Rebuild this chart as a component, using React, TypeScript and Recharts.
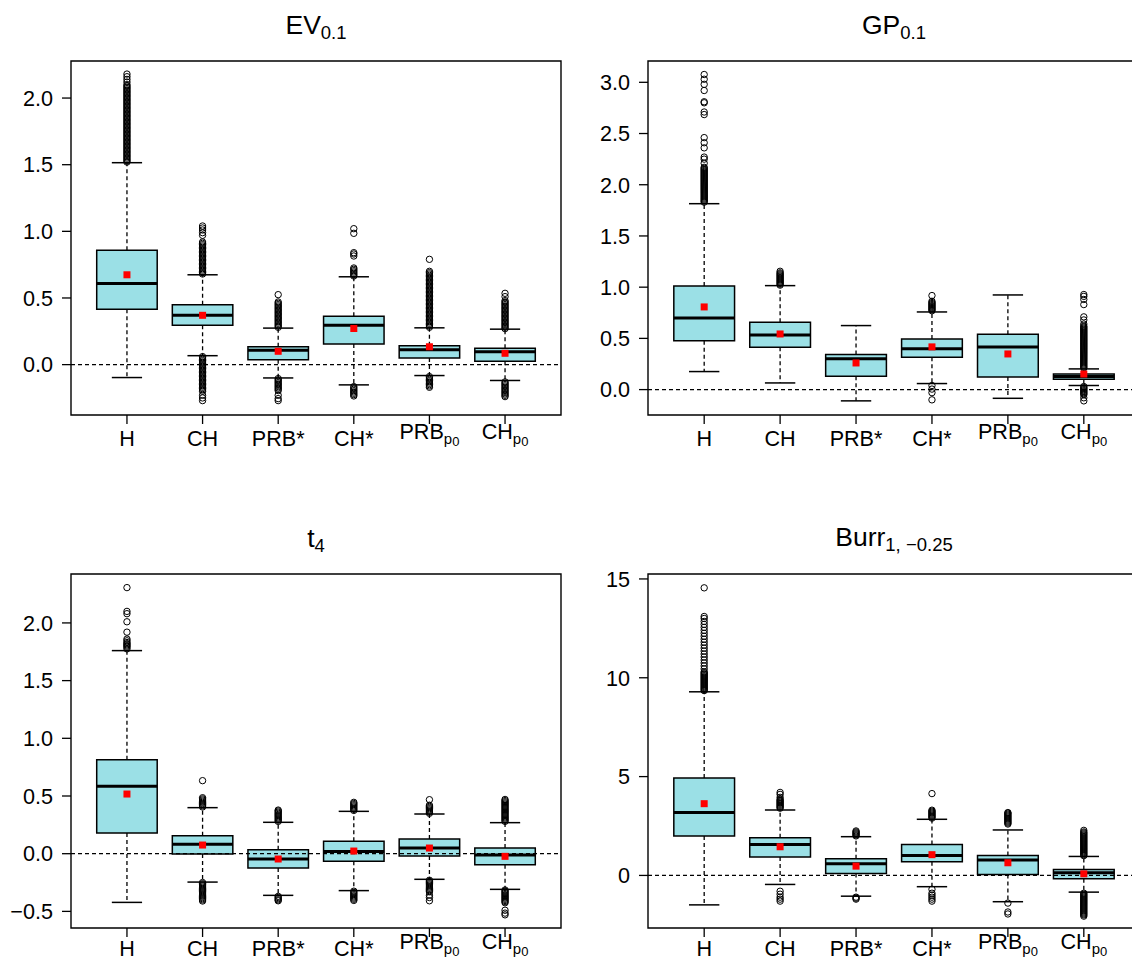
import React from 'react';
import { ScatterChart, Scatter, XAxis, YAxis, ReferenceArea, ReferenceLine } from 'recharts';

const FONT = '"Liberation Sans", Arial, Helvetica, sans-serif';
const BOX_FILL = '#9be0e6';

// categories (tick labels with plotmath-like subscripts)
const positions = [1, 2, 3, 4, 5, 6];
const categories = ['H', 'CH', 'PRB*', 'CH*', 'PRB', 'CH'];
const catSub = ['', '', '', '', 'p', 'p'];
const catSubSub = ['', '', '', '', '0', '0'];

// ---------- EV_0.1 ----------
const evTicks = [0, 0.5, 1, 1.5, 2];
const evLow = [-0.097, 0.067, -0.1, -0.152, -0.082, -0.119];
const evQ1 = [0.415, 0.296, 0.037, 0.154, 0.05, 0.025];
const evMed = [0.609, 0.37, 0.107, 0.296, 0.112, 0.097];
const evQ3 = [0.858, 0.45, 0.134, 0.363, 0.142, 0.122];
const evHigh = [1.515, 0.674, 0.274, 0.659, 0.276, 0.266];
const evMean = [0.674, 0.37, 0.1, 0.271, 0.134, 0.085];
const evOutH = [1.52, 1.53, 1.54, 1.55, 1.56, 1.57, 1.58, 1.59, 1.6, 1.61, 1.62, 1.63, 1.64, 1.65, 1.66, 1.67, 1.68, 1.69, 1.7, 1.71, 1.72, 1.73, 1.74, 1.75, 1.76, 1.77, 1.78, 1.79, 1.8, 1.81, 1.82, 1.83, 1.84, 1.85, 1.86, 1.87, 1.88, 1.89, 1.9, 1.91, 1.92, 1.93, 1.94, 1.95, 1.96, 1.97, 1.98, 1.99, 2.0, 2.01, 2.02, 2.03, 2.04, 2.05, 2.06, 2.07, 2.08, 2.09, 2.1, 2.12, 2.14, 2.16, 2.18];
const evOutCH = [0.68, 0.69, 0.7, 0.71, 0.72, 0.73, 0.74, 0.75, 0.76, 0.77, 0.78, 0.79, 0.8, 0.81, 0.82, 0.83, 0.84, 0.85, 0.86, 0.87, 0.88, 0.89, 0.9, 0.91, 0.92, 0.97, 0.99, 1.01, 1.025, 1.04, 0.06, 0.05, 0.04, 0.03, 0.02, 0.01, 0.0, -0.01, -0.02, -0.03, -0.04, -0.05, -0.06, -0.07, -0.08, -0.09, -0.1, -0.11, -0.12, -0.13, -0.14, -0.15, -0.16, -0.17, -0.18, -0.19, -0.2, -0.23, -0.25, -0.27];
const evOutPRBs = [0.28, 0.29, 0.3, 0.31, 0.32, 0.33, 0.34, 0.35, 0.36, 0.37, 0.38, 0.39, 0.4, 0.41, 0.42, 0.43, 0.44, 0.45, 0.46, 0.47, 0.525, -0.105, -0.115, -0.125, -0.135, -0.145, -0.155, -0.165, -0.175, -0.185, -0.195, -0.23, -0.255, -0.27];
const evOutCHs = [0.665, 0.675, 0.685, 0.695, 0.705, 0.715, 0.725, 0.815, 0.83, 0.84, 0.985, 1.02, -0.165, -0.175, -0.185, -0.195, -0.205, -0.215, -0.225, -0.235];
const evOutPRBp = [0.28, 0.29, 0.3, 0.31, 0.32, 0.33, 0.34, 0.35, 0.36, 0.37, 0.38, 0.39, 0.4, 0.41, 0.42, 0.43, 0.44, 0.45, 0.46, 0.47, 0.48, 0.49, 0.5, 0.51, 0.52, 0.53, 0.54, 0.55, 0.56, 0.57, 0.58, 0.59, 0.6, 0.61, 0.62, 0.63, 0.64, 0.65, 0.66, 0.67, 0.68, 0.69, 0.7, 0.79, -0.09, -0.1, -0.11, -0.12, -0.13, -0.14, -0.15, -0.16, -0.17];
const evOutCHp = [0.27, 0.28, 0.29, 0.3, 0.31, 0.32, 0.33, 0.34, 0.35, 0.36, 0.37, 0.38, 0.39, 0.4, 0.41, 0.42, 0.43, 0.44, 0.45, 0.46, 0.47, 0.48, 0.51, 0.535, -0.13, -0.14, -0.15, -0.16, -0.17, -0.18, -0.19, -0.2, -0.21, -0.22, -0.23, -0.24];

// ---------- GP_0.1 ----------
const gpTicks = [0, 0.5, 1, 1.5, 2, 2.5, 3];
const gpLow = [0.176, 0.065, -0.11, 0.059, -0.085, 0.04];
const gpQ1 = [0.478, 0.413, 0.13, 0.316, 0.124, 0.1];
const gpMed = [0.7, 0.534, 0.3, 0.4, 0.417, 0.127];
const gpQ3 = [1.012, 0.657, 0.342, 0.495, 0.54, 0.153];
const gpHigh = [1.815, 1.015, 0.625, 0.758, 0.924, 0.202];
const gpMean = [0.807, 0.543, 0.26, 0.417, 0.348, 0.152];
const gpOutH = [1.83, 1.84, 1.85, 1.86, 1.87, 1.88, 1.89, 1.9, 1.91, 1.92, 1.93, 1.94, 1.95, 1.96, 1.97, 1.98, 1.99, 2.0, 2.01, 2.02, 2.03, 2.04, 2.05, 2.06, 2.07, 2.08, 2.09, 2.1, 2.11, 2.12, 2.13, 2.14, 2.15, 2.16, 2.17, 2.21, 2.25, 2.27, 2.36, 2.41, 2.46, 2.685, 2.71, 2.8, 2.81, 2.92, 2.98, 3.03, 3.076];
const gpOutCH = [1.02, 1.03, 1.04, 1.05, 1.06, 1.07, 1.08, 1.09, 1.1, 1.11, 1.12, 1.13, 1.14, 1.155];
const gpOutPRBs: number[] = [];
const gpOutCHs = [0.77, 0.78, 0.79, 0.8, 0.81, 0.82, 0.83, 0.84, 0.85, 0.862, 0.918, 0.04, 0.005, -0.03, -0.1];
const gpOutPRBp: number[] = [];
const gpOutCHp = [0.21, 0.22, 0.23, 0.24, 0.25, 0.26, 0.27, 0.28, 0.29, 0.3, 0.31, 0.32, 0.33, 0.34, 0.35, 0.36, 0.37, 0.38, 0.39, 0.4, 0.41, 0.42, 0.43, 0.44, 0.45, 0.46, 0.47, 0.48, 0.49, 0.5, 0.51, 0.52, 0.53, 0.54, 0.55, 0.56, 0.57, 0.58, 0.59, 0.6, 0.61, 0.62, 0.64, 0.68, 0.71, 0.83, 0.88, 0.91, 0.928, 0.03, 0.02, 0.01, 0.0, -0.01, -0.02, -0.03, -0.04, -0.05, -0.08, -0.11];

// ---------- t_4 ----------
const tTicks = [-0.5, 0, 0.5, 1, 1.5, 2];
const tLow = [-0.422, -0.246, -0.361, -0.32, -0.222, -0.309];
const tQ1 = [0.179, -0.003, -0.124, -0.066, -0.02, -0.095];
const tMed = [0.584, 0.081, -0.046, 0.02, 0.049, -0.012];
const tQ3 = [0.815, 0.156, 0.035, 0.107, 0.127, 0.049];
const tHigh = [1.76, 0.399, 0.272, 0.367, 0.344, 0.269];
const tMean = [0.517, 0.075, -0.046, 0.023, 0.049, -0.023];
const tOutH = [1.775, 1.79, 1.8, 1.81, 1.82, 1.83, 1.845, 1.86, 1.92, 2.01, 2.08, 2.1, 2.306];
const tOutCH = [0.405, 0.415, 0.425, 0.435, 0.445, 0.455, 0.465, 0.475, 0.485, 0.633, -0.25, -0.26, -0.27, -0.28, -0.29, -0.3, -0.31, -0.32, -0.33, -0.34, -0.35, -0.36, -0.37, -0.38, -0.39, -0.4, -0.41];
const tOutPRBs = [0.28, 0.29, 0.3, 0.31, 0.32, 0.33, 0.34, 0.35, 0.36, 0.37, 0.378, -0.37, -0.38, -0.39, -0.4, -0.408];
const tOutCHs = [0.375, 0.385, 0.395, 0.405, 0.415, 0.425, 0.435, 0.445, -0.325, -0.335, -0.345, -0.355, -0.365, -0.375, -0.385, -0.395, -0.405];
const tOutPRBp = [0.35, 0.36, 0.37, 0.38, 0.39, 0.4, 0.41, 0.42, 0.468, -0.23, -0.24, -0.25, -0.26, -0.27, -0.28, -0.29, -0.3, -0.31, -0.32, -0.33, -0.36, -0.38, -0.408];
const tOutCHp = [0.28, 0.29, 0.3, 0.31, 0.32, 0.33, 0.34, 0.35, 0.36, 0.37, 0.38, 0.39, 0.4, 0.41, 0.42, 0.43, 0.44, 0.45, 0.46, 0.47, -0.315, -0.325, -0.335, -0.345, -0.355, -0.365, -0.375, -0.385, -0.395, -0.405, -0.415, -0.425, -0.49, -0.515, -0.53];

// ---------- Burr_{1,-0.25} ----------
const bTicks = [0, 5, 10, 15];
const bLow = [-1.49, -0.456, -1.05, -0.57, -1.33, -0.845];
const bQ1 = [1.99, 0.93, 0.1, 0.69, 0.05, -0.17];
const bMed = [3.18, 1.57, 0.59, 1.01, 0.78, 0.135];
const bQ3 = [4.93, 1.91, 0.845, 1.57, 1.01, 0.3];
const bHigh = [9.29, 3.31, 1.96, 2.84, 2.3, 0.96];
const bMean = [3.63, 1.45, 0.47, 1.05, 0.64, 0.08];
const bOutH = [9.35, 9.4, 9.45, 9.5, 9.55, 9.6, 9.65, 9.7, 9.75, 9.8, 9.85, 9.9, 9.95, 10.0, 10.05, 10.1, 10.15, 10.2, 10.25, 10.3, 10.45, 10.6, 10.75, 10.9, 11.05, 11.2, 11.35, 11.5, 11.65, 11.8, 11.95, 12.1, 12.25, 12.4, 12.55, 12.7, 12.85, 13.0, 13.1, 14.55];
const bOutCH = [3.4, 3.45, 3.5, 3.55, 3.6, 3.65, 3.7, 3.75, 3.8, 3.85, 3.95, 4.1, 4.2, -0.8, -0.95, -1.1, -1.2, -1.3];
const bOutPRBs = [2.0, 2.05, 2.1, 2.15, 2.2, 2.25, -1.1, -1.15, -1.2];
const bOutCHs = [2.9, 2.95, 3.0, 3.05, 3.1, 3.15, 3.2, 3.25, 3.3, 4.14, -0.7, -0.9, -1.0, -1.1, -1.2, -1.3];
const bOutPRBp = [2.6, 2.65, 2.7, 2.75, 2.8, 2.85, 2.9, 2.95, 3.0, 3.05, 3.1, 3.15, 3.18, -1.4, -1.85, -1.95];
const bOutCHp = [1.0, 1.05, 1.1, 1.15, 1.2, 1.25, 1.3, 1.35, 1.4, 1.45, 1.5, 1.55, 1.6, 1.65, 1.7, 1.75, 1.8, 1.85, 1.9, 1.95, 2.0, 2.05, 2.1, 2.15, 2.2, 2.28, -0.9, -0.95, -1.0, -1.05, -1.1, -1.15, -1.2, -1.25, -1.3, -1.35, -1.4, -1.45, -1.5, -1.55, -1.6, -1.65, -1.7, -1.75, -1.8, -1.85, -1.9, -1.95, -2.0, -2.06];

const TICK_FS = 21.6;

function fmt(v: number, decimals: number) {
  const s = v.toFixed(decimals);
  return s.startsWith('-') ? '\u2212' + s.slice(1) : s;
}

const makeXTick = (shift: number) => (props: any) => {
  const { x, y, payload } = props;
  const idx = positions.indexOf(payload.value);
  if (idx < 0) return null;
  const main = categories[idx];
  const sub = catSub[idx];
  const ss = catSubSub[idx];
  if (!sub) {
    return (
      <text x={x} y={y + 20 + shift} textAnchor="middle" fontSize={TICK_FS} fontFamily={FONT} fill="#000">
        {main}
      </text>
    );
  }
  return (
    <text x={x} y={y + 13 + shift} textAnchor="middle" fontSize={TICK_FS} fontFamily={FONT} fill="#000">
      {main}
      <tspan fontSize={15} dy={5}>{sub}</tspan>
      <tspan fontSize={13} dy={2}>{ss}</tspan>
    </text>
  );
};

const makeYTick = (decimals: number) => (props: any) => {
  const { x, y, payload } = props;
  return (
    <text x={x} y={y} dy="0.36em" textAnchor="end" fontSize={TICK_FS} fontFamily={FONT} fill="#000">
      {fmt(payload.value, decimals)}
    </text>
  );
};

const OutlierShape = (props: any) => (
  <circle cx={props.cx} cy={props.cy} r={3.2} fill="none" stroke="#000" strokeWidth={1} />
);
const MeanShape = (props: any) => (
  <rect x={props.cx - 3.5} y={props.cy - 3.5} width={7} height={7} fill="#ff0000" />
);

type PanelProps = {
  left: number;
  top: number;
  width: number;
  yAxisWidth: number;
  labelShift: number;
  domain: [number, number];
  ticks: number[];
  decimals: number;
  low: number[];
  q1: number[];
  med: number[];
  q3: number[];
  high: number[];
  mean: number[];
  outliers: number[][];
};

function Panel(p: PanelProps) {
  const outData: { x: number; y: number }[] = [];
  p.outliers.forEach((arr, i) => arr.forEach((v) => outData.push({ x: positions[i], y: v })));
  const meanData = p.mean.map((v, i) => ({ x: positions[i], y: v }));
  const lineProps = { stroke: '#000', ifOverflow: 'visible' as const };
  const elements: any[] = [];
  positions.forEach((pos, i) => {
    elements.push(
      <ReferenceArea
        key={'box' + i}
        x1={pos - 0.4}
        x2={pos + 0.4}
        y1={p.q1[i]}
        y2={p.q3[i]}
        fill={BOX_FILL}
        fillOpacity={1}
        stroke="#000"
        strokeWidth={1.5}
        ifOverflow="visible"
      />
    );
  });
  positions.forEach((pos, i) => {
    elements.push(
      <ReferenceLine key={'wu' + i} segment={[{ x: pos, y: p.q3[i] }, { x: pos, y: p.high[i] }]} {...lineProps} strokeWidth={1.3} strokeDasharray="4 3" />,
      <ReferenceLine key={'wl' + i} segment={[{ x: pos, y: p.q1[i] }, { x: pos, y: p.low[i] }]} {...lineProps} strokeWidth={1.3} strokeDasharray="4 3" />,
      <ReferenceLine key={'su' + i} segment={[{ x: pos - 0.2, y: p.high[i] }, { x: pos + 0.2, y: p.high[i] }]} {...lineProps} strokeWidth={1.5} />,
      <ReferenceLine key={'sl' + i} segment={[{ x: pos - 0.2, y: p.low[i] }, { x: pos + 0.2, y: p.low[i] }]} {...lineProps} strokeWidth={1.5} />,
      <ReferenceLine key={'md' + i} segment={[{ x: pos - 0.4, y: p.med[i] }, { x: pos + 0.4, y: p.med[i] }]} {...lineProps} strokeWidth={3} />
    );
  });
  return (
    <div style={{ position: 'absolute', left: p.left, top: p.top }}>
      <ScatterChart width={p.width} height={470} margin={{ top: 61, right: 5, bottom: 15, left: 0 }}>
        <XAxis
          type="number"
          dataKey="x"
          domain={[0.26, 6.74]}
          ticks={positions}
          allowDataOverflow
          axisLine={false}
          tickLine={{ stroke: '#000', strokeWidth: 1.3 }}
          tickSize={9}
          tickMargin={2}
          height={40}
          interval={0}
          tick={makeXTick(p.labelShift)}
        />
        <YAxis
          type="number"
          dataKey="y"
          domain={p.domain}
          ticks={p.ticks}
          allowDataOverflow
          width={p.yAxisWidth}
          axisLine={false}
          tickLine={{ stroke: '#000', strokeWidth: 1.3 }}
          tickSize={9}
          tickMargin={9}
          interval={0}
          tick={makeYTick(p.decimals)}
        />
        <ReferenceArea
          x1={0.26}
          x2={6.74}
          y1={p.domain[0]}
          y2={p.domain[1]}
          fill="none"
          stroke="#000"
          strokeWidth={1.4}
          ifOverflow="visible"
        />
        {elements}
        <ReferenceLine y={0} stroke="#000" strokeWidth={1.3} strokeDasharray="4 3" />
        <Scatter data={outData} dataKey="y" shape={OutlierShape} isAnimationActive={false} />
        <Scatter data={meanData} dataKey="y" shape={MeanShape} isAnimationActive={false} />
      </ScatterChart>
    </div>
  );
}

const TITLE_FS = 26.5;
const SUB_FS = 18.5;

export default function App() {
  return (
    <div
      style={{
        position: 'absolute',
        left: 0,
        top: 0,
        width: 1132,
        height: 962,
        overflow: 'hidden',
        background: '#fff',
      }}
    >
      <Panel
        left={0}
        top={0}
        width={566}
        yAxisWidth={71}
        labelShift={0}
        domain={[-0.378, 2.278]}
        ticks={evTicks}
        decimals={1}
        low={evLow}
        q1={evQ1}
        med={evMed}
        q3={evQ3}
        high={evHigh}
        mean={evMean}
        outliers={[evOutH, evOutCH, evOutPRBs, evOutCHs, evOutPRBp, evOutCHp]}
      />
      <Panel
        left={567}
        top={0}
        width={578}
        yAxisWidth={81}
        labelShift={0}
        domain={[-0.248, 3.208]}
        ticks={gpTicks}
        decimals={1}
        low={gpLow}
        q1={gpQ1}
        med={gpMed}
        q3={gpQ3}
        high={gpHigh}
        mean={gpMean}
        outliers={[gpOutH, gpOutCH, gpOutPRBs, gpOutCHs, gpOutPRBp, gpOutCHp]}
      />
      <Panel
        left={0}
        top={513}
        width={566}
        yAxisWidth={71}
        labelShift={-3}
        domain={[-0.644, 2.424]}
        ticks={tTicks}
        decimals={1}
        low={tLow}
        q1={tQ1}
        med={tMed}
        q3={tQ3}
        high={tHigh}
        mean={tMean}
        outliers={[tOutH, tOutCH, tOutPRBs, tOutCHs, tOutPRBp, tOutCHp]}
      />
      <Panel
        left={567}
        top={513}
        width={578}
        yAxisWidth={81}
        labelShift={-3}
        domain={[-2.66, 15.25]}
        ticks={bTicks}
        decimals={0}
        low={bLow}
        q1={bQ1}
        med={bMed}
        q3={bQ3}
        high={bHigh}
        mean={bMean}
        outliers={[bOutH, bOutCH, bOutPRBs, bOutCHs, bOutPRBp, bOutCHp]}
      />
      <svg
        width={1132}
        height={962}
        style={{ position: 'absolute', left: 0, top: 0, pointerEvents: 'none' }}
      >
        <g fontFamily={FONT} fill="#000">
          <text x={316} y={34} textAnchor="middle" fontSize={TITLE_FS}>
            EV<tspan fontSize={SUB_FS} dy={5}>0.1</tspan>
          </text>
          <text x={894} y={34} textAnchor="middle" fontSize={TITLE_FS}>
            GP<tspan fontSize={SUB_FS} dy={5}>0.1</tspan>
          </text>
          <text x={316} y={547} textAnchor="middle" fontSize={TITLE_FS}>
            t<tspan fontSize={SUB_FS} dy={5}>4</tspan>
          </text>
          <text x={894} y={546} textAnchor="middle" fontSize={TITLE_FS}>
            Burr<tspan fontSize={SUB_FS} dy={5}>1, {'\u2212'}0.25</tspan>
          </text>
        </g>
      </svg>
    </div>
  );
}
